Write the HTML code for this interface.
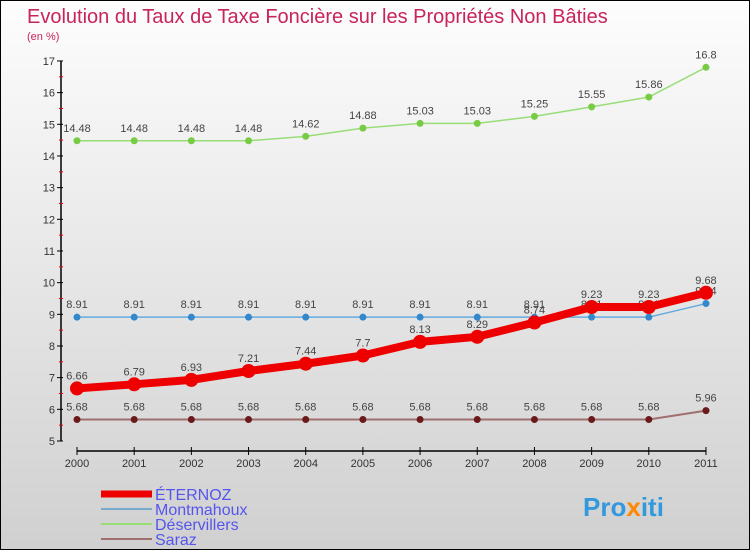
<!DOCTYPE html>
<html><head><meta charset="utf-8"><style>
body{margin:0}
#c{width:750px;height:550px;position:relative;box-sizing:border-box;border:1px solid #000;background:linear-gradient(#fdfdfd,#d0d0d0);font-family:"Liberation Sans",sans-serif;overflow:hidden}
</style></head><body>
<div id="c">
<svg id="s" width="750" height="550" style="position:absolute;left:0;top:0">
<text x="26" y="22" font-size="20" fill="#c8245a">Evolution du Taux de Taxe Foncière sur les Propriétés Non Bâties</text>
<text x="26" y="39" font-size="11" fill="#c8245a">(en %)</text>
<g id="axes"></g><g id="series"></g><g id="legend"></g>
<text x="582" y="515" font-size="26" font-weight="bold" fill="#3399dd">Pro<tspan fill="#ff8800">x</tspan>iti</text>
</svg>
</div>
<script>
const years=["2000","2001","2002","2003","2004","2005","2006","2007","2008","2009","2010","2011"];
const eternoz=[6.66,6.79,6.93,7.21,7.44,7.7,8.13,8.29,8.74,9.23,9.23,9.68];
const montmahoux=[8.91,8.91,8.91,8.91,8.91,8.91,8.91,8.91,8.91,8.91,8.91,9.34];
const deservillers=[14.48,14.48,14.48,14.48,14.62,14.88,15.03,15.03,15.25,15.55,15.86,16.8];
const saraz=[5.68,5.68,5.68,5.68,5.68,5.68,5.68,5.68,5.68,5.68,5.68,5.96];
const yTicks=[5,6,7,8,9,10,11,12,13,14,15,16,17];
const NS="http://www.w3.org/2000/svg";
const X=i=>76+i*57.18, Y=v=>440-(v-5)*31.67;
function mk(t,a,p){const e=document.createElementNS(NS,t);for(const k in a)e.setAttribute(k,a[k]);p.appendChild(e);return e;}
const ax=document.getElementById('axes');
let l=mk('line',{x1:60,y1:Y(17),x2:60,y2:Y(5),stroke:'#000','stroke-width':1.5},ax);

yTicks.forEach(v=>{mk('line',{x1:56,y1:Y(v),x2:62,y2:Y(v),stroke:'#000'},ax);
 if(v<17)mk('line',{x1:58,y1:Y(v+0.5),x2:62,y2:Y(v+0.5),stroke:'#e00'},ax);
 const t=mk('text',{x:54,y:Y(v)+4,'font-size':11,'text-anchor':'end',fill:'#333'},ax);t.textContent=v;
 });
l=mk('line',{x1:76,y1:450,x2:705,y2:450,stroke:'#000','stroke-width':1.5},ax);

years.forEach((y,i)=>{mk('line',{x1:X(i),y1:446,x2:X(i),y2:454,stroke:'#000'},ax);
 const t=mk('text',{x:X(i),y:466,'font-size':11,'text-anchor':'middle',fill:'#333'},ax);t.textContent=y;
 });
const sg=document.getElementById('series');
function series(name,d,col,w,dotc,r){
 const g=mk('g',{},sg);
 mk('polyline',{points:d.map((v,i)=>X(i)+','+Y(v)).join(' '),fill:'none',stroke:col,'stroke-width':w,'stroke-linejoin':'round'},g);
 d.forEach((v,i)=>{const c=mk('circle',{cx:X(i),cy:Y(v),r:r,fill:dotc},g);
  
  const t=mk('text',{x:X(i),y:Y(v)-9,'font-size':11,'text-anchor':'middle',fill:'#444'},g);t.textContent=String(v);
  });
}
series('saraz',saraz,'#a07070',2,'#6b1a1a',3.5);
series('deservillers',deservillers,'#99dd77',1.5,'#77cc44',3.5);
series('montmahoux',montmahoux,'#66aadd',1.5,'#3388cc',3.5);
series('eternoz',eternoz,'#ee0000',8,'#ee0000',7);
const lg=document.getElementById('legend');
[['ÉTERNOZ','#ee0000',7],['Montmahoux','#77aacc',2],['Déservillers','#99dd77',2],['Saraz','#a07070',2]].forEach((e,i)=>{
 const y=493+i*15;
 const g=mk('g',{},lg);
 mk('line',{x1:100,y1:y,x2:151,y2:y,stroke:e[1],'stroke-width':e[2]},g);
 const t=mk('text',{x:154,y:y+6,'font-size':16,fill:'#5555ee'},g);t.textContent=e[0];
});
</script>
</body></html>
